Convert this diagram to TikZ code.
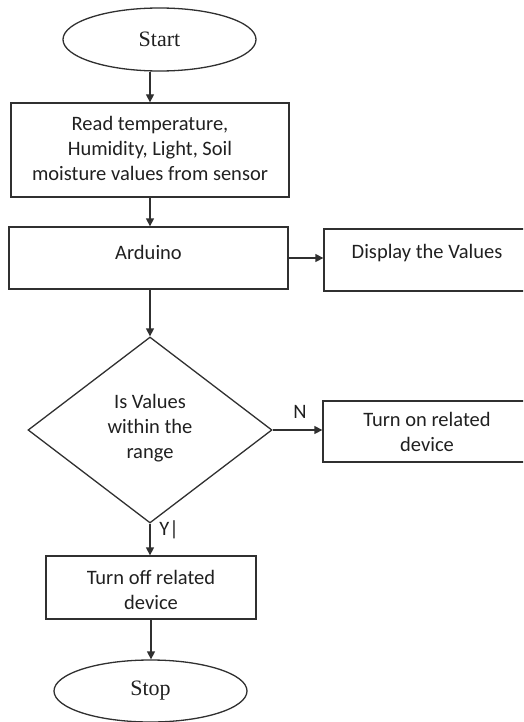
\documentclass[tikz,border=0pt]{standalone}
\usepackage{fontspec}
\setmainfont{Carlito}
\newfontfamily\serifx{Liberation Serif}
\usetikzlibrary{shapes.geometric,arrows.meta}
\definecolor{ln}{HTML}{303030}
\definecolor{tx}{HTML}{202020}
\begin{document}
\begin{tikzpicture}[x=1pt,y=-1pt,
  box/.style={draw=ln,line width=1.3pt,rectangle,inner sep=0pt},
  term/.style={draw=ln,line width=1.3pt,ellipse,inner sep=0pt,font=\serifx\fontsize{22}{26}\selectfont,text=tx},
  txt/.style={align=center,font=\fontsize{20.5}{25}\selectfont,text=tx,inner sep=0pt},
  arr/.style={draw=ln,line width=1.3pt,-{Triangle[length=8pt,width=8pt]}}]
\useasboundingbox (0,0) rectangle (523,722);
\clip (0,0) rectangle (523,722);
\node[term,minimum width=193,minimum height=63] (start) at (159.5,39.5) {Start};
\node[box,minimum width=278,minimum height=94] (read) at (150,150) {};
\node[txt] at (150,148) {Read temperature,\\Humidity, Light, Soil\\moisture values from sensor};
\node[box,minimum width=279,minimum height=62] (ard) at (148.5,258) {};
\node[txt] at (148.5,252) {Arduino};
\node[box,minimum width=206,minimum height=62] (disp) at (427,260) {};
\node[txt] at (427,253) {Display the Values};
\node[draw=ln,line width=1.3pt,diamond,inner sep=0pt,minimum width=244,minimum height=186] (dia) at (150,430) {};
\node[txt] at (150,428) {Is Values\\within the\\range};
\node[box,minimum width=208,minimum height=61] (on) at (427,431.5) {};
\node[txt] at (427,431.5) {Turn on related\\device};
\node[box,minimum width=210,minimum height=63] (off) at (151,587.5) {};
\node[txt] at (151,590) {Turn off related\\device};
\node[term,minimum width=193,minimum height=62] (stop) at (150.5,691) {Stop};
\node[txt] (nlab) at (300,412) {N};
\node[txt] (ylab) at (169,530) {Y|};
\draw[arr] (start.south -| read.north) -- (read.north);
\draw[arr] (read.south) -- (read.south |- ard.north);
\draw[arr] (ard.east) -- (ard.east -| disp.west);
\draw[arr] (ard.south -| dia.north) -- (dia.north);
\draw[arr] (dia.east) -- (dia.east -| on.west);
\draw[arr] (dia.south) -- (dia.south |- off.north);
\draw[arr] (off.south) -- (off.south |- stop.north);
\end{tikzpicture}
\end{document}
